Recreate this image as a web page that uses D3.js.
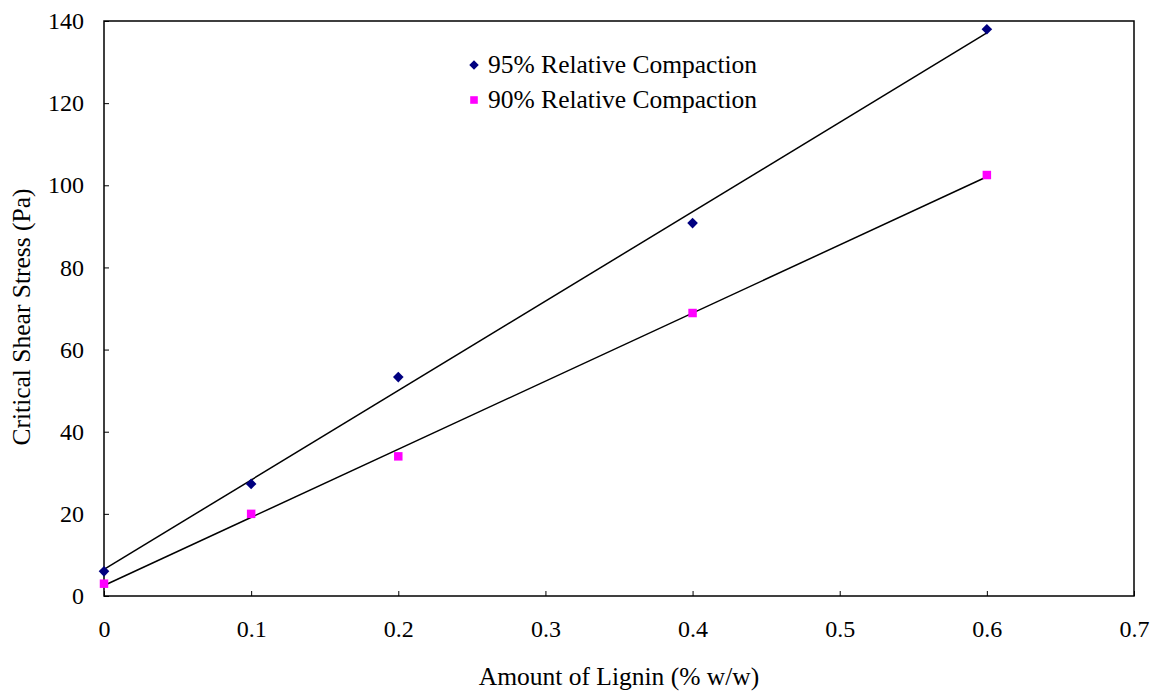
<!DOCTYPE html>
<html><head><meta charset="utf-8">
<script src="https://cdn.jsdelivr.net/npm/d3@7"></script>
<style>body{margin:0;background:#fff}svg{display:block}text{font-family:"Liberation Serif","Times New Roman",serif;fill:#000}</style>
</head><body><svg id="c" width="1161" height="693"></svg>
<script>
const lignin = [0, 0.1, 0.2, 0.4, 0.6];
const rc95 = [6, 27.3, 53.3, 90.8, 138];
const rc90 = [3, 20, 34, 68.9, 102.5];
const seriesNames = ["95% Relative Compaction", "90% Relative Compaction"];
const xTicks = [0, 0.1, 0.2, 0.3, 0.4, 0.5, 0.6, 0.7];
const yTicks = [0, 20, 40, 60, 80, 100, 120, 140];

const FS = 24, TFS = 25.5;
const svg = d3.select("#c");
const L = 104, R = 1134, T = 21, B = 596;
const x = d3.scaleLinear().domain([0, 0.7]).range([L, R]);
const y = d3.scaleLinear().domain([0, 140]).range([B, T]);

svg.append("rect").attr("x", L).attr("y", T).attr("width", R - L).attr("height", B - T)
  .attr("fill", "none").attr("stroke", "#000").attr("stroke-width", 1.5);

const xa = svg.append("g").attr("transform", `translate(0,${B})`)
  .call(d3.axisBottom(x).tickValues(xTicks).tickSizeInner(-5).tickSizeOuter(0).tickPadding(24).tickFormat(d => d3.format("")(d)));
const ya = svg.append("g").attr("transform", `translate(${L},0)`)
  .call(d3.axisLeft(y).tickValues(yTicks).tickSizeInner(-5).tickSizeOuter(0).tickPadding(20));
[xa, ya].forEach(a => {
  a.select(".domain").remove();
  a.selectAll("line").attr("stroke", "#000");
  a.selectAll("text").style("font-family", '"Liberation Serif",serif').attr("font-size", FS).attr("fill", "#000");
});

function fit(xs, ys) {
  const mx = d3.mean(xs), my = d3.mean(ys);
  let sxy = 0, sxx = 0;
  xs.forEach((v, i) => { sxy += (v - mx) * (ys[i] - my); sxx += (v - mx) ** 2; });
  const b = sxy / sxx; return [b, my - b * mx];
}
const series = [
  {vals: rc95, color: "#000080", sym: d3.symbolDiamond2, size: 72},
  {vals: rc90, color: "#FF00FF", sym: d3.symbolSquare, size: 72}
];
series.forEach(s => {
  const [b, a] = fit(lignin, s.vals);
  const x0 = 0, x1 = d3.max(lignin);
  svg.append("line").attr("x1", x(x0)).attr("y1", y(a + b * x0)).attr("x2", x(x1)).attr("y2", y(a + b * x1))
    .attr("stroke", "#000").attr("stroke-width", 1.5);
});
series.forEach(s => {
  svg.append("g").selectAll("path").data(lignin).join("path")
    .attr("d", d3.symbol().type(s.sym).size(s.size))
    .attr("transform", (d, i) => `translate(${x(d)},${y(s.vals[i])})`)
    .attr("fill", s.color);
});

// legend
const lg = svg.append("g");
seriesNames.forEach((n, i) => {
  const yy = 65 + i * 35;
  lg.append("path").attr("d", d3.symbol().type(series[i].sym).size(series[i].size*0.8)())
    .attr("transform", `translate(474,${yy})`).attr("fill", series[i].color);
  lg.append("text").attr("x", 488).attr("y", yy + 8).attr("font-size", TFS).text(n);
});

svg.append("text").attr("x", 619).attr("y", 685).attr("text-anchor", "middle").attr("font-size", TFS)
  .text("Amount of Lignin (% w/w)");
svg.append("text").attr("transform", `translate(30,317) rotate(-90)`).attr("text-anchor", "middle").attr("font-size", TFS)
  .text("Critical Shear Stress (Pa)");
</script></body></html>
